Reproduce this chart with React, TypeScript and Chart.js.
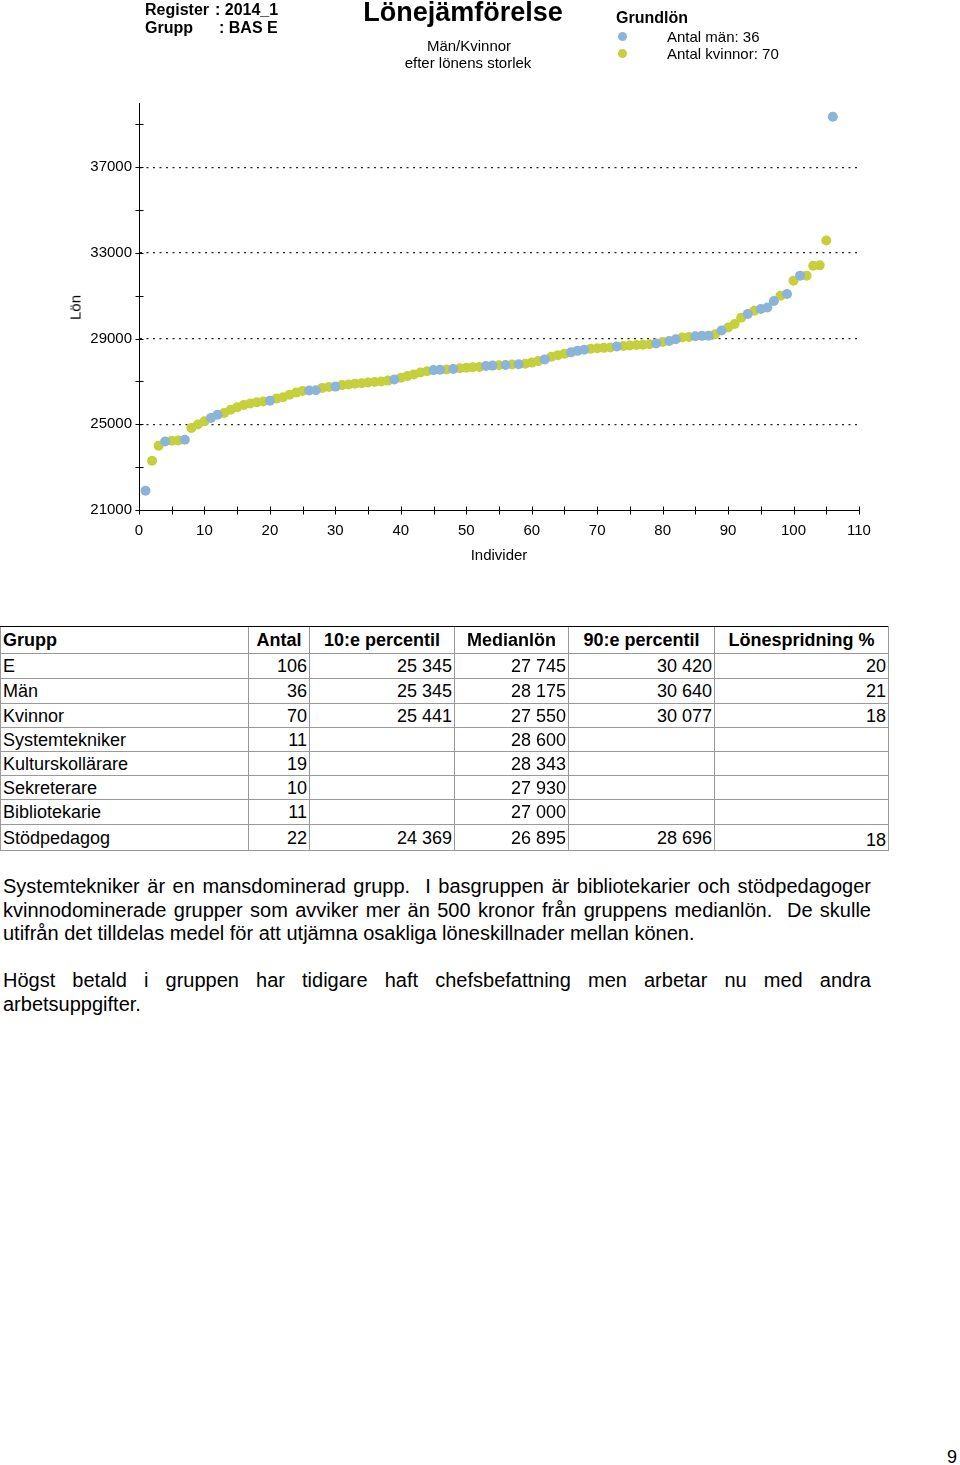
import React, { useEffect, useRef } from "react";
import { Chart, registerables } from "chart.js";

Chart.register(...registerables);

// M = man (blå), K = kvinna (gul) – ordnade efter lönens storlek
const genders: string[] = [
  "M", "K", "K", "M", "K", "K", "M", "K", "K", "K",
  "M", "M", "K", "K", "K", "K", "K", "K", "K", "M",
  "K", "K", "K", "K", "K", "M", "M", "K", "K", "M",
  "K", "K", "K", "K", "K", "K", "K", "K", "M", "K",
  "K", "K", "K", "K", "M", "M", "K", "M", "K", "K",
  "K", "K", "M", "M", "K", "M", "K", "M", "K", "K",
  "K", "M", "K", "K", "K", "M", "M", "M", "K", "K",
  "K", "K", "M", "K", "K", "K", "K", "K", "M", "K",
  "M", "M", "K", "K", "M", "M", "M", "K", "M", "K",
  "K", "K", "M", "K", "M", "M", "M", "K", "M", "K",
  "M", "K", "K", "K", "K", "M",
];

const salaries: number[] = [
  21900, 23300, 24000, 24200, 24230, 24250, 24280, 24830, 24990, 25140,
  25300, 25450, 25530, 25680, 25800, 25900, 25970, 26030, 26070, 26100,
  26200, 26260, 26380, 26480, 26560, 26580, 26590, 26700, 26740, 26760,
  26830, 26860, 26890, 26920, 26950, 26980, 27000, 27040, 27090, 27170,
  27250, 27330, 27420, 27480, 27530, 27550, 27560, 27580, 27620, 27640,
  27660, 27680, 27720, 27740, 27760, 27770, 27790, 27800, 27830, 27880,
  27950, 28030, 28150, 28230, 28300, 28360, 28430, 28480, 28530, 28550,
  28570, 28590, 28630, 28660, 28680, 28700, 28720, 28740, 28770, 28840,
  28890, 28970, 29050, 29080, 29110, 29130, 29140, 29200, 29380, 29520,
  29680, 29980, 30150, 30300, 30380, 30450, 30760, 31000, 31080, 31700,
  31940, 31940, 32400, 32420, 33580, 39360,
];

const xTickValues = [0, 5, 10, 15, 20, 25, 30, 35, 40, 45, 50, 55, 60, 65, 70, 75, 80, 85, 90, 95, 100, 105, 110];
const xLabelValues = [0, 10, 20, 30, 40, 50, 60, 70, 80, 90, 100, 110];
const yTickValues = [21000, 23000, 25000, 27000, 29000, 31000, 33000, 35000, 37000, 39000];
const yLabelValues = [21000, 25000, 29000, 33000, 37000];
const yGridValues = [25000, 29000, 33000, 37000];

const tableHeader = ["Grupp", "Antal", "10:e percentil", "Medianlön", "90:e percentil", "Lönespridning %"];
const groups = ["E", "Män", "Kvinnor", "Systemtekniker", "Kulturskollärare", "Sekreterare", "Bibliotekarie", "Stödpedagog"];
const counts = ["106", "36", "70", "11", "19", "10", "11", "22"];
const p10 = ["25 345", "25 345", "25 441", "", "", "", "", "24 369"];
const medians = ["27 745", "28 175", "27 550", "28 600", "28 343", "27 930", "27 000", "26 895"];
const p90 = ["30 420", "30 640", "30 077", "", "", "", "", "28 696"];
const spread = ["20", "21", "18", "", "", "", "", "18"];

const BLUE = "#8cb3d8";
const YELLOW = "#c6cf3c";
const FONT = "'Liberation Sans', Arial, sans-serif";

const colWidths = [248, 61, 145, 114, 146, 174];
const rowHeights = [25, 25, 24, 24, 24, 24, 25, 26];

function SalaryChart() {
  const ref = useRef<HTMLCanvasElement>(null);
  useEffect(() => {
    if (!ref.current) return;
    const men: { x: number; y: number }[] = [];
    const women: { x: number; y: number }[] = [];
    salaries.forEach((s, i) => (genders[i] === "M" ? men : women).push({ x: i + 1, y: s }));

    const crossTicks = {
      id: "crossTicks",
      afterDraw(chart: any) {
        const { ctx } = chart;
        const xs = chart.scales.x;
        const ys = chart.scales.y;
        const yb = Math.round(ys.getPixelForValue(21000)) + 0.5;
        const xl = Math.round(xs.getPixelForValue(0)) + 0.5;
        ctx.save();
        ctx.strokeStyle = "#000";
        ctx.lineWidth = 1;
        ctx.beginPath();
        xTickValues.forEach((v) => {
          const px = Math.round(xs.getPixelForValue(v)) + 0.5;
          ctx.moveTo(px, yb - 4);
          ctx.lineTo(px, yb + 4);
        });
        yTickValues.forEach((v) => {
          const py = Math.round(ys.getPixelForValue(v)) + 0.5;
          ctx.moveTo(xl - 4, py);
          ctx.lineTo(xl + 4, py);
        });
        ctx.stroke();
        ctx.restore();
      },
    };

    const chart = new Chart(ref.current, {
      type: "scatter",
      data: {
        datasets: [
          {
            label: "Antal män: 36",
            data: men,
            backgroundColor: BLUE,
            borderWidth: 0,
            pointRadius: 5,
            pointHoverRadius: 5,
            clip: false,
          },
          {
            label: "Antal kvinnor: 70",
            data: women,
            backgroundColor: YELLOW,
            borderWidth: 0,
            pointRadius: 5,
            pointHoverRadius: 5,
            clip: false,
          },
        ],
      },
      options: {
        animation: false,
        responsive: false,
        devicePixelRatio: 1,
        layout: { padding: { top: 103, right: 101, left: 0, bottom: 0 } },
        plugins: { legend: { display: false }, tooltip: { enabled: false } },
        scales: {
          x: {
            type: "linear",
            min: 0,
            max: 110,
            afterBuildTicks: (axis: any) => {
              axis.ticks = xTickValues.map((v) => ({ value: v }));
            },
            afterFit: (s: any) => {
              s.height = 90;
            },
            ticks: {
              autoSkip: false,
              maxRotation: 0,
              padding: 12,
              color: "#000",
              font: { family: FONT, size: 15 },
              callback: (v: any) => (xLabelValues.includes(Number(v)) ? String(v) : ""),
            },
            grid: { display: true, drawOnChartArea: false, drawTicks: false, color: "rgba(0,0,0,0)" },
            border: { display: true, color: "#000", width: 1 },
          },
          y: {
            type: "linear",
            min: 21000,
            max: 40000,
            afterBuildTicks: (axis: any) => {
              axis.ticks = yTickValues.map((v) => ({ value: v }));
            },
            afterFit: (s: any) => {
              s.width = 139;
            },
            ticks: {
              autoSkip: false,
              padding: 7,
              color: "#000",
              font: { family: FONT, size: 15 },
              callback: (v: any) => (yLabelValues.includes(Number(v)) ? String(v) : ""),
            },
            grid: {
              display: true,
              drawTicks: false,
              lineWidth: 1.3,
              color: (c: any) => (c.tick && yGridValues.includes(c.tick.value) ? "#222" : "rgba(0,0,0,0)"),
            },
            border: { display: true, color: "#000", width: 1, dash: [2, 4.5] },
          },
        },
      },
      plugins: [crossTicks],
    } as any);
    return () => chart.destroy();
  }, []);
  return (
    <canvas
      ref={ref}
      width={960}
      height={600}
      style={{ position: "absolute", left: 0, top: 0, width: 960, height: 600 }}
    />
  );
}

function Txt(props: {
  x: number;
  y: number;
  size?: number;
  bold?: boolean;
  align?: "left" | "center";
  children: React.ReactNode;
  style?: React.CSSProperties;
}) {
  const size = props.size ?? 15;
  const lh = size + 6;
  return (
    <div
      style={{
        position: "absolute",
        left: props.x,
        top: props.y - lh / 2,
        lineHeight: lh + "px",
        fontSize: size,
        fontWeight: props.bold ? "bold" : "normal",
        fontFamily: FONT,
        whiteSpace: "nowrap",
        transform: props.align === "center" ? "translateX(-50%)" : undefined,
        color: "#000",
        ...props.style,
      }}
    >
      {props.children}
    </div>
  );
}

function Dot(props: { x: number; y: number; color: string }) {
  return (
    <div
      style={{
        position: "absolute",
        left: props.x - 4.5,
        top: props.y - 4.5,
        width: 9,
        height: 9,
        borderRadius: "50%",
        background: props.color,
      }}
    />
  );
}

function SalaryTable() {
  const cellBase: React.CSSProperties = {
    padding: "0 2px",
    borderLeft: "1px solid #9a9a9a",
    borderBottom: "1px solid #9a9a9a",
    overflow: "hidden",
    whiteSpace: "nowrap",
    verticalAlign: "middle",
    lineHeight: "20px",
  };
  const rows = groups.map((g, i) => [g, counts[i], p10[i], medians[i], p90[i], spread[i]]);
  return (
    <table
      style={{
        position: "absolute",
        left: 0,
        top: 626,
        width: 888,
        borderCollapse: "collapse",
        tableLayout: "fixed",
        fontFamily: FONT,
        fontSize: 18,
        color: "#000",
      }}
    >
      <colgroup>
        {colWidths.map((w, i) => (
          <col key={i} style={{ width: w }} />
        ))}
      </colgroup>
      <tbody>
        <tr style={{ height: 27 }}>
          {tableHeader.map((h, i) => (
            <td
              key={i}
              style={{
                ...cellBase,
                borderTop: "1px solid #000",
                fontWeight: "bold",
                textAlign: i === 0 ? "left" : "center",
                borderRight: i === tableHeader.length - 1 ? "1px solid #9a9a9a" : undefined,
              }}
            >
              {h}
            </td>
          ))}
        </tr>
        {rows.map((r, ri) => (
          <tr key={ri} style={{ height: rowHeights[ri] }}>
            {r.map((c, ci) => (
              <td
                key={ci}
                style={{
                  ...cellBase,
                  textAlign: ci === 0 ? "left" : "right",
                  borderRight: ci === r.length - 1 ? "1px solid #9a9a9a" : undefined,
                  paddingTop: ri === rows.length - 1 && ci === r.length - 1 ? 4 : 0,
                }}
              >
                {c}
              </td>
            ))}
          </tr>
        ))}
      </tbody>
    </table>
  );
}

function Line(props: { y: number; justify?: boolean; children: React.ReactNode }) {
  return (
    <div
      style={{
        position: "absolute",
        left: 3,
        width: 868,
        top: props.y - 12,
        lineHeight: "24px",
        fontSize: 20,
        fontFamily: FONT,
        whiteSpace: "nowrap",
        textAlign: props.justify ? "justify" : "left",
        textAlignLast: props.justify ? "justify" : "left",
        color: "#000",
      } as React.CSSProperties}
    >
      {props.children}
    </div>
  );
}

export default function App() {
  return (
    <div
      style={{
        position: "absolute",
        left: 0,
        top: 0,
        width: 960,
        height: 1465,
        overflow: "hidden",
        background: "#fff",
      }}
    >
      <SalaryChart />
      <Txt x={145} y={10} size={16} bold>Register</Txt>
      <Txt x={215} y={10} size={16} bold>: 2014_1</Txt>
      <Txt x={145} y={28} size={16} bold>Grupp</Txt>
      <Txt x={219} y={28} size={16} bold>: BAS E</Txt>
      <Txt x={463} y={12} size={27} bold align="center">Lönejämförelse</Txt>
      <Txt x={469} y={45} size={15} align="center">Män/Kvinnor</Txt>
      <Txt x={468} y={62} size={15} align="center">efter lönens storlek</Txt>
      <Txt x={616} y={18} size={16} bold>Grundlön</Txt>
      <Dot x={622} y={36} color={BLUE} />
      <Dot x={622} y={53} color={YELLOW} />
      <Txt x={667} y={36} size={15}>Antal män: 36</Txt>
      <Txt x={667} y={53} size={15}>Antal kvinnor: 70</Txt>
      <Txt x={75} y={307} size={15} align="center" style={{ transform: "translateX(-50%) rotate(-90deg)" }}>Lön</Txt>
      <Txt x={499} y={554} size={15} align="center">Individer</Txt>
      <SalaryTable />
      <Line y={886} justify>Systemtekniker är en mansdominerad grupp.&nbsp; I basgruppen är bibliotekarier och stödpedagoger</Line>
      <Line y={910} justify>kvinnodominerade grupper som avviker mer än 500 kronor från gruppens medianlön.&nbsp; De skulle</Line>
      <Line y={933}>utifrån det tilldelas medel för att utjämna osakliga löneskillnader mellan könen.</Line>
      <Line y={980} justify>Högst betald i gruppen har tidigare haft chefsbefattning men arbetar nu med andra</Line>
      <Line y={1004}>arbetsuppgifter.</Line>
      <Txt x={947} y={1457} size={18}>9</Txt>
    </div>
  );
}
